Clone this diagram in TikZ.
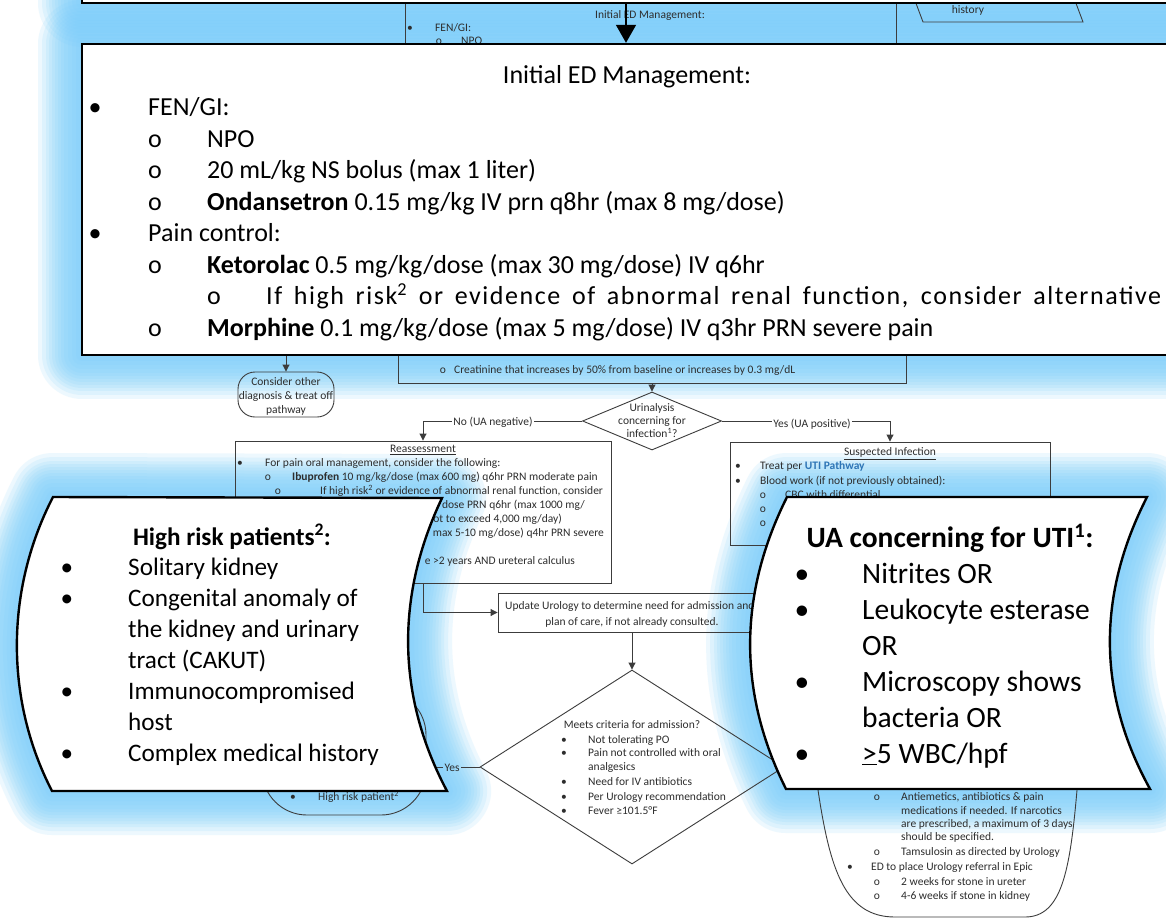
\documentclass[tikz,border=0pt]{standalone}
\usepackage{fontspec}
\setmainfont{Carlito}
\usetikzlibrary{arrows.meta,shapes.geometric}

\definecolor{glowc}{RGB}{120,205,250}
\definecolor{ink}{RGB}{45,45,45}
\definecolor{edgegray}{RGB}{60,60,60}
\definecolor{link}{RGB}{46,117,182}

% outlines of the enlarged panels (also used for their halo)
\newcommand\prevpath{(82,-80) rectangle (1220,3)}
\newcommand\edpath{(82,44) rectangle (1220,355)}
\newcommand\riskpath{(53,497) -- (442,498) .. controls (396,595) and (396,695) .. (447,791) -- (52,791) .. controls (5,700) and (5,590) .. (53,497) -- cycle}
\newcommand\utipath{(787,497) -- (1147,497) .. controls (1097,595) and (1097,693) .. (1150,789) -- (786,789) .. controls (738,693) and (738,595) .. (787,497) -- cycle}

% soft blue halo: stacked translucent strokes
\newcommand\glowpath[1]{\foreach \w in {88,80,72,66,60,54,48,42,36,28,20,12}{\draw[glow, line width=\w pt] #1;}}

% one line of text, placed on its baseline
\newcommand\tleft[4]{\node[anchor=base west] (#1) at (#2,#3) {#4};}
\newcommand\tright[4]{\node[anchor=base east] (#1) at (#2,#3) {#4};}
\newcommand\tmid[4]{\node[anchor=base] (#1) at (#2,#3) {#4};}

\tikzset{
  glow/.style={draw=glowc, draw opacity=0.13, line join=round},
  chartline/.style={draw=edgegray, line width=0.9pt},
  flow/.style={chartline, -{Triangle[length=7pt,width=7pt]}},
  bigflow/.style={draw=black, line width=1.6pt, -{Triangle[length=18pt,width=20pt]}},
  chartbox/.style={chartline, rectangle, inner sep=0pt},
  chartdiamond/.style={chartline, diamond, inner sep=0pt},
  ctxt/.style={inner sep=0pt, text=ink, font=\fontsize{11.5}{14}\selectfont},
  lbl/.style={ctxt, inner sep=1.5pt},
  callout/.style={draw=black, line width=2.4pt, fill=white, line join=miter},
  edtxt/.style={inner sep=0pt, font=\fontsize{26}{31.5}\selectfont},
  risktxt/.style={inner sep=0pt, font=\fontsize{25.2}{31}\selectfont},
  utitxt/.style={inner sep=0pt, font=\fontsize{29.5}{36}\selectfont},
}

\begin{document}
\begin{tikzpicture}[x=1pt,y=-1pt]
\useasboundingbox (0,0) rectangle (1166,921);
\clip (0,0) rectangle (1166,921);
\fill[white] (0,0) rectangle (1166,921);

% ---------- halos ----------
\glowpath{\prevpath}
\glowpath{\edpath}
\glowpath{\riskpath}
\glowpath{\utipath}

% ---------- underlying pathway ----------
\node[chartbox, minimum width=491pt, minimum height=160pt] (initbox) at (650.5,50) {};
\draw[chartline] (911,-10) -- (923,22) -- (1083,22) -- (1071,-10);
\node[chartbox, minimum width=508pt, minimum height=60pt] (creat) at (652,353) {};
\node[chartbox, rounded corners=17pt, minimum width=96pt, minimum height=45pt] (st1) at (286,394.5) {};
\coordinate (nosrc) at (286,340);
\draw[flow] (nosrc) -- (st1.north);
\node[chartdiamond, minimum width=139pt, minimum height=58pt] (d1) at (652,421) {};
\draw[flow] (creat.south) -- (d1.north);
\node[chartbox, minimum width=376pt, minimum height=142pt] (reass) at (423,512) {};
\node[chartbox, minimum width=320pt, minimum height=103pt] (susp) at (890,493.5) {};
\node[chartbox, minimum width=268pt, minimum height=39pt] (upd) at (632,612.5) {};
\node[chartdiamond, minimum width=304pt, minimum height=194pt] (d2) at (632,767) {};
\node[chartbox, rounded corners=45pt, minimum width=164pt, minimum height=125pt] (st2) at (344,752.5) {};
\draw[chartline] (815,760) -- (818,790) .. controls (830,870) and (845,917) .. (895,917)
  -- (1025,917) .. controls (1062,917) and (1070,870) .. (1077,790) -- (1079,760);

\node[lbl, anchor=base] (nolbl) at (493,425) {No (UA negative)};
\draw[chartline] (d1.west) -- (d1.west -| nolbl.east);
\draw[flow] (d1.west -| nolbl.west) -| (reass.north);
\node[lbl, anchor=base] (yeslbl) at (812,427) {Yes (UA positive)};
\draw[chartline] (d1.east) -- (d1.east -| yeslbl.west);
\draw[flow] (d1.east -| yeslbl.east) -| (susp.north);
\draw[flow] (reass.south) |- (upd.west);
\draw[flow] (upd.south) -- (d2.north);
\node[lbl, anchor=base] (yes2) at (452,771) {Yes};
\draw[chartline] (d2.west) -- (d2.west -| yes2.east);
\draw[flow] (d2.west -| yes2.west) -- (d2.west -| st2.east);

\begin{scope}[every node/.style={ctxt}]
\tmid{c1}{650}{18}{Initial ED Management:}
\tmid{c2}{410}{31.5}{•}\tleft{c3}{435}{31.5}{FEN/GI:}
\tmid{c4}{439}{44}{o}\tleft{c5}{461}{44}{NPO}
\tmid{c6}{968}{13.5}{history}
\tmid{c7}{443}{373.5}{o}\tleft{c8}{454}{373.5}{Creatinine that increases by 50\% from baseline or increases by 0.3 mg/dL}
\tmid{c9}{286}{385.5}{Consider other}
\tmid{c10}{286}{399.5}{diagnosis \& treat off}
\tmid{c11}{286}{413.5}{pathway}
\tmid{c12}{652}{411.5}{Urinalysis}
\tmid{c13}{652}{424.5}{concerning for}
\tmid{c14}{652}{437.5}{infection\textsuperscript{1}?}
% reassessment
\tmid{r1}{423}{452.5}{\underline{Reassessment}}
\tmid{r2}{240}{466.5}{•}\tleft{r3}{265}{466.5}{For pain oral management, consider the following:}
\tmid{r4}{268}{480.5}{o}\tleft{r5}{292}{480.5}{\textbf{Ibuprofen} 10 mg/kg/dose (max 600 mg) q6hr PRN moderate pain}
\tmid{r6}{278}{494.5}{o}\tleft{r7}{320}{494.5}{If high risk\textsuperscript{2} or evidence of abnormal renal function, consider}
\tright{r8}{585}{508.5}{/dose PRN q6hr (max 1000 mg/}
\tright{r9}{562}{522.5}{not to exceed 4,000 mg/day)}
\tright{r10}{604}{536.5}{max 5-10 mg/dose) q4hr PRN severe}
\tright{r11}{575}{564}{e >2 years AND ureteral calculus}
% suspected infection
\tmid{s1}{890}{455.5}{\underline{Suspected Infection}}
\tmid{s2}{738}{469.5}{•}\tleft{s3}{760}{469.5}{Treat per \textcolor{link}{\textbf{UTI Pathway}}}
\tmid{s4}{738}{484.5}{•}\tleft{s5}{760}{484.5}{Blood work (if not previously obtained):}
\tmid{s6}{763}{498.5}{o}\tleft{s7}{785}{498.5}{CBC with differential}
\tmid{s8}{763}{512.5}{o}
\tmid{s9}{763}{526.5}{o}
% update urology
\tleft{u1}{505}{609.5}{Update Urology to determine need for admission and}
\tmid{u2}{632}{625.5}{plan of care, if not already consulted.}
% admission criteria
\tmid{a1}{632}{728.5}{Meets criteria for admission?}
\tmid{a2}{564}{743.5}{•}\tleft{a3}{588}{743.5}{Not tolerating PO}
\tmid{a4}{564}{756.5}{•}\tleft{a5}{588}{756.5}{Pain not controlled with oral}
\tleft{a6}{588}{770.5}{analgesics}
\tmid{a7}{564}{785.5}{•}\tleft{a8}{588}{785.5}{Need for IV antibiotics}
\tmid{a9}{564}{800.5}{•}\tleft{a10}{588}{800.5}{Per Urology recommendation}
\tmid{a11}{564}{814.5}{•}\tleft{a12}{588}{814.5}{Fever ≥101.5°F}
% admit terminator
\tmid{h1}{293}{800.5}{•}\tleft{h2}{318}{800.5}{High risk patient\textsuperscript{2}}
% discharge terminator
\tmid{b1}{877}{800.5}{o}\tleft{b2}{901}{800.5}{Antiemetics, antibiotics \& pain}
\tleft{b3}{901}{814.5}{medications if needed. If narcotics}
\tleft{b4}{901}{827.5}{are prescribed, a maximum of 3 days}
\tleft{b5}{901}{840.5}{should be specified.}
\tmid{b6}{877}{855.5}{o}\tleft{b7}{901}{855.5}{Tamsulosin as directed by Urology}
\tmid{b8}{850}{870.5}{•}\tleft{b9}{871}{870.5}{ED to place Urology referral in Epic}
\tmid{b10}{877}{885.5}{o}\tleft{b11}{901}{885.5}{2 weeks for stone in ureter}
\tmid{b12}{877}{899.5}{o}\tleft{b13}{901}{899.5}{4-6 weeks if stone in kidney}
\end{scope}

% ---------- enlarged panels ----------
\node[callout, rectangle, inner sep=0pt, minimum width=1138pt, minimum height=83pt] (prevbox) at (651,-38.5) {};
\node[callout, rectangle, inner sep=0pt, minimum width=1138pt, minimum height=311pt] (edbox) at (651,199.5) {};
\coordinate (ax) at (626,0);
\draw[bigflow] (ax |- prevbox.south) -- (ax |- edbox.north);
\path[callout] \riskpath;
\path[callout] \utipath;

\begin{scope}[every node/.style={edtxt}]
\tmid{e0}{627}{83}{Initial ED Management:}
\tmid{e1m}{95}{115.5}{•}\tleft{e1}{148}{115.5}{FEN/GI:}
\tmid{e2m}{155}{147}{o}\tleft{e2}{207}{147}{NPO}
\tmid{e3m}{155}{178.5}{o}\tleft{e3}{207}{178.5}{20 mL/kg NS bolus (max 1 liter)}
\tmid{e4m}{155}{210}{o}\tleft{e4}{207}{210}{\textbf{Ondansetron} 0.15 mg/kg IV prn q8hr (max 8 mg/dose)}
\tmid{e5m}{95}{241.5}{•}\tleft{e5}{148}{241.5}{Pain control:}
\tmid{e6m}{155}{273}{o}\tleft{e6}{207}{273}{\textbf{Ketorolac} 0.5 mg/kg/dose (max 30 mg/dose) IV q6hr}
\tmid{e7m}{214}{304.5}{o}\tleft{e7}{266}{304.5}{\addfontfeatures{LetterSpace=6}\makebox[895pt][s]{If high risk\textsuperscript{2} or evidence of abnormal renal function, consider alternative}}
\tmid{e8m}{155}{336}{o}\tleft{e8}{207}{336}{\textbf{Morphine} 0.1 mg/kg/dose (max 5 mg/dose) IV q3hr PRN severe pain}
\end{scope}

\begin{scope}[every node/.style={risktxt}]
\tmid{k0}{232}{545}{\textbf{High risk patients\textsuperscript{2}:}}
\tmid{k1m}{67}{575}{•}\tleft{k1}{128}{575}{Solitary kidney}
\tmid{k2m}{67}{606}{•}\tleft{k2}{128}{606}{Congenital anomaly of}
\tleft{k3}{128}{637}{the kidney and urinary}
\tleft{k4}{128}{668}{tract (CAKUT)}
\tmid{k5m}{67}{699}{•}\tleft{k5}{128}{699}{Immunocompromised}
\tleft{k6}{128}{730}{host}
\tmid{k7m}{67}{761}{•}\tleft{k7}{128}{761}{Complex medical history}
\end{scope}

\begin{scope}[every node/.style={utitxt}]
\tmid{v0}{950}{547}{\textbf{UA concerning for UTI\textsuperscript{1}:}}
\tmid{v1m}{802}{583}{•}\tleft{v1}{862}{583}{Nitrites OR}
\tmid{v2m}{802}{619}{•}\tleft{v2}{862}{619}{Leukocyte esterase}
\tleft{v3}{862}{655}{OR}
\tmid{v4m}{802}{691}{•}\tleft{v4}{862}{691}{Microscopy shows}
\tleft{v5}{862}{727}{bacteria OR}
\tmid{v6m}{802}{763}{•}\tleft{v6}{862}{763}{\underline{>}5 WBC/hpf}
\end{scope}
\end{tikzpicture}
\end{document}
